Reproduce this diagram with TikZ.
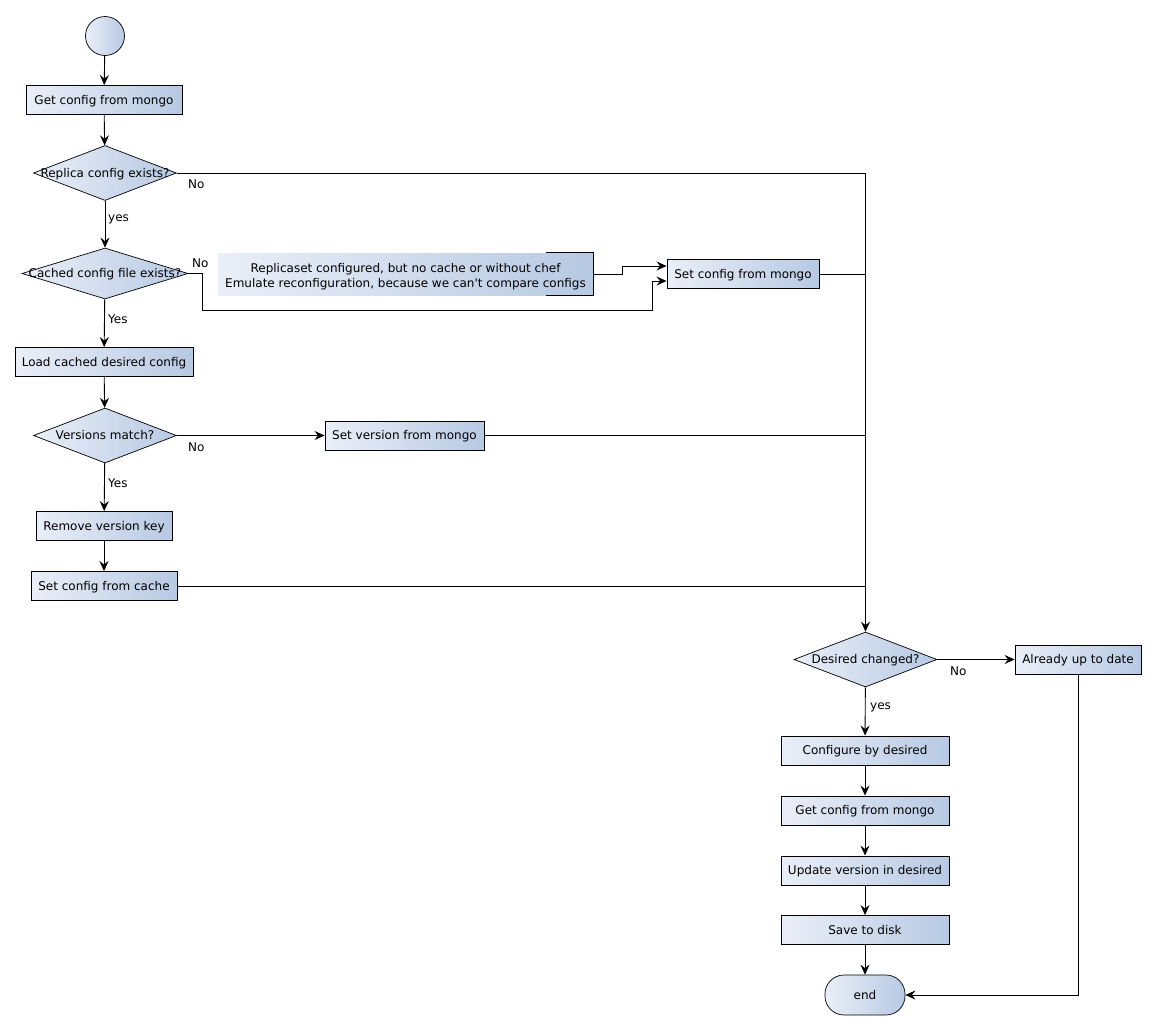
\documentclass[tikz,border=0pt]{standalone}
\usepackage{fontspec}
\setmainfont{DejaVu Sans}
\usetikzlibrary{shapes.geometric,arrows.meta}
\definecolor{gl}{RGB}{234,239,248}
\definecolor{gr}{RGB}{183,201,227}
\begin{document}
\begin{tikzpicture}[x=1pt,y=-1pt,
 every node/.style={font=\fontsize{12}{15}\selectfont},
 every label/.style={text height=9pt, text depth=1pt, inner sep=0pt},
 box/.style={draw=black, line width=0.9pt, left color=gl, right color=gr, minimum height=29pt, inner sep=0pt, text height=9pt, text depth=1pt},
 dec/.style={diamond, draw=black, line width=0.7pt, left color=gl, right color=gr, minimum width=143pt, minimum height=55pt, inner sep=0pt},
 arr/.style={-{Stealth[length=10pt,width=9pt,inset=3.5pt]}, line width=0.9pt},
 ln/.style={line width=0.9pt},
 lbl/.style={anchor=west, inner sep=0pt}
]
\path[use as bounding box, fill=white] (0,0) rectangle (1157,1031);

\node[circle, draw=black, line width=0.7pt, minimum size=39pt, inner sep=0pt, left color=gl, right color=gr] (start) at (105,36) {};
\node[box, minimum width=156pt] (get1) at (104,100) {Get config from mongo};
\node[dec, label=center:{Replica config exists?}] (q1) at (105,173) {};
\node[dec, minimum width=166pt, minimum height=51pt, label=center:{Cached config file exists?}] (q2) at (105,273.5) {};
\node[minimum width=375pt, minimum height=42pt, inner sep=0pt, left color=gl, right color=gr,
  label={[align=center, text height={}, text depth={}, yshift=-2.5pt]center:{Replicaset configured, but no cache or without chef\\Emulate reconfiguration, because we can\textquotesingle t compare configs}}] (note) at (405.5,274) {};
\draw[line width=0.7pt] ([xshift=-47pt]note.north east) -- (note.north east) -- (note.south east) -- ([xshift=-47pt]note.south east);
\node[box, minimum width=152pt] (scm) at (743,274) {Set config from mongo};
\node[box, minimum width=178pt] (load) at (104,362) {Load cached desired config};
\node[dec, label=center:{Versions match?}] (q3) at (105,435.5) {};
\node[box, minimum width=159pt] (svm) at (404.5,435.5) {Set version from mongo};
\node[box, minimum width=136pt] (rvk) at (104,526) {Remove version key};
\node[box, minimum width=146pt] (scc) at (104,586) {Set config from cache};
\node[dec, label=center:{Desired changed?}] (q4) at (865.5,659.5) {};
\node[box, minimum width=126pt] (aud) at (1078,659.5) {Already up to date};
\node[box, minimum width=168pt] (cbd) at (865,750.5) {Configure by desired};
\node[box, minimum width=168pt] (get2) at (865,810.5) {Get config from mongo};
\node[box, minimum width=168pt] (uvd) at (865,870.5) {Update version in desired};
\node[box, minimum width=168pt] (std) at (865,930) {Save to disk};
\node[draw=black, line width=0.7pt, rounded corners=19pt, minimum width=80pt, minimum height=40pt, inner sep=0pt, text height=9pt, text depth=1pt, left color=gl, right color=gr] (end) at (865,995) {end};

\draw[arr] (start) -- (get1);
\draw[arr] (get1) -- (q1);
\draw[arr] (q1) -- (q2);
\node[lbl] at (108,219) {yes};
\draw[arr] (q1.east) -| (q4.north);
\node[lbl] at (188,184) {No};
\draw[arr] (q2.east) -- (202,273.5) -- (202,310) -- (652,310) |- ([yshift=-7pt]scm.west);
\node[lbl] at (192,263) {No};
\draw[arr] (note.east) -- (622,274) |- ([yshift=8pt]scm.west);
\draw[ln] (scm.east) -- (865,274);
\draw[arr] (q2) -- (load);
\node[lbl] at (108,319) {Yes};
\draw[arr] (load) -- (q3);
\draw[arr] (q3) -- (svm);
\node[lbl] at (188,447) {No};
\draw[ln] (svm.east) -- (865,435.5);
\draw[arr] (q3) -- (rvk);
\node[lbl] at (108,483) {Yes};
\draw[arr] (rvk) -- (scc);
\draw[ln] (scc.east) -- (865,586);
\draw[arr] (q4) -- (aud);
\node[lbl] at (950,671) {No};
\draw[arr] (q4) -- (cbd);
\node[lbl] at (870,707) {yes};
\draw[arr] (cbd) -- (get2);
\draw[arr] (get2) -- (uvd);
\draw[arr] (uvd) -- (std);
\draw[arr] (std) -- (end);
\draw[arr] (aud.south) |- (end.east);
\end{tikzpicture}
\end{document}
